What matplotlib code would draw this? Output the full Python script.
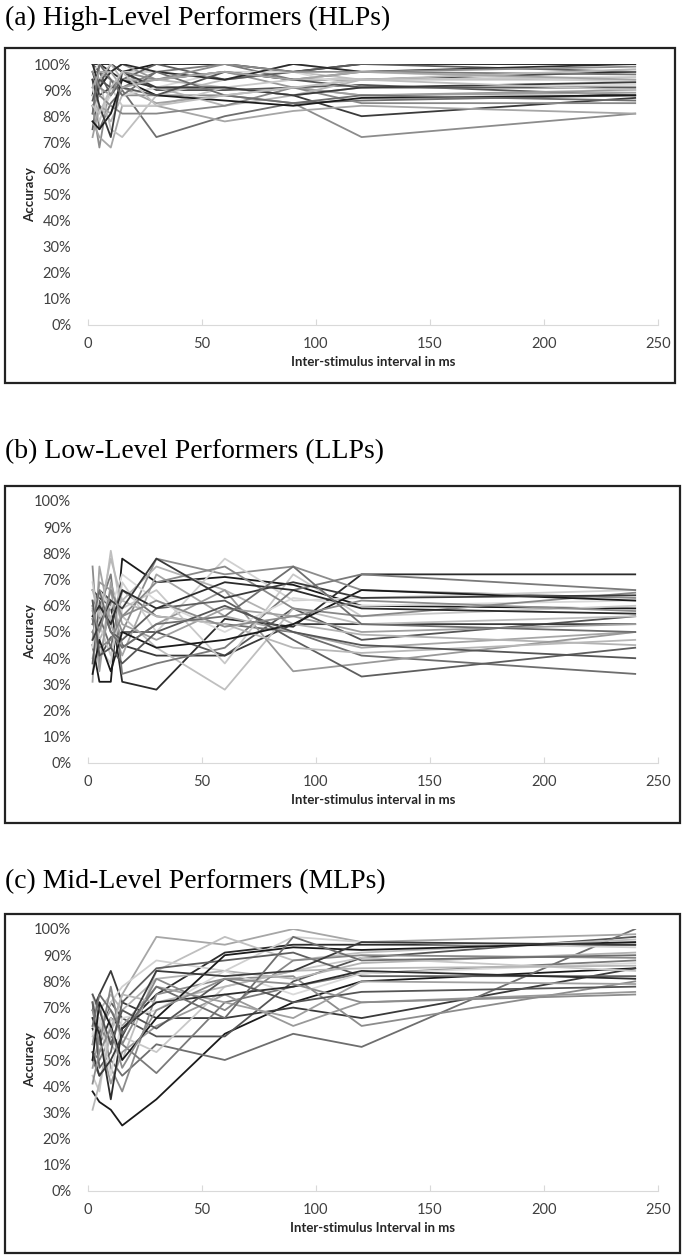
import numpy as np
import matplotlib.pyplot as plt
from matplotlib.patches import Rectangle
from matplotlib.ticker import PercentFormatter

# inter-stimulus intervals (ms)
isi = [2, 5, 10, 15, 30, 60, 90, 120, 240]

# accuracy (%) per participant, one list per line
hlp = [
    [100, 100, 100, 97, 100, 100, 97, 100, 100],
    [88, 100, 97, 94, 94, 97, 94, 94, 97],
    [75, 92, 100, 97, 90, 90, 91, 92, 88],
    [97, 88, 91, 94, 91, 91, 88, 80, 87],
    [94, 75, 85, 90, 72, 80, 85, 86, 88],
    [84, 68, 94, 88, 88, 88, 85, 72, 81],
    [78, 72, 68, 84, 84, 78, 82, 84, 81],
    [100, 94, 75, 72, 88, 94, 97, 94, 94],
    [91, 81, 88, 97, 97, 94, 100, 97, 93],
    [97, 97, 94, 91, 97, 100, 94, 97, 96],
    [81, 84, 78, 88, 91, 84, 88, 91, 91],
    [94, 91, 97, 100, 94, 97, 91, 88, 90],
    [88, 78, 91, 84, 84, 91, 94, 94, 95],
    [100, 97, 88, 94, 100, 94, 97, 100, 97],
    [72, 84, 81, 91, 85, 88, 91, 88, 89],
    [97, 100, 94, 88, 91, 97, 97, 91, 92],
    [84, 88, 84, 81, 81, 84, 91, 85, 85],
    [91, 94, 100, 94, 94, 91, 88, 94, 98],
    [78, 75, 81, 94, 88, 86, 84, 87, 88],
    [100, 91, 97, 100, 97, 94, 100, 97, 100],
    [86, 94, 91, 91, 88, 97, 94, 91, 91],
    [94, 84, 72, 97, 91, 91, 88, 91, 93],
    [81, 100, 94, 88, 97, 88, 85, 88, 86],
    [97, 91, 88, 97, 94, 100, 97, 97, 99],
    [91, 97, 97, 91, 94, 97, 94, 97, 94],
    [84, 81, 91, 97, 84, 88, 91, 94, 90],
]

llp = [
    [45, 31, 31, 78, 69, 71, 68, 60, 59],
    [66, 63, 60, 31, 28, 55, 52, 72, 72],
    [55, 40, 48, 50, 50, 41, 59, 47, 56],
    [60, 66, 62, 45, 41, 41, 53, 53, 53],
    [50, 56, 44, 66, 56, 53, 50, 41, 34],
    [75, 38, 62, 50, 78, 72, 75, 66, 63],
    [31, 75, 53, 41, 72, 56, 50, 44, 50],
    [40, 50, 81, 56, 44, 28, 59, 53, 56],
    [62, 44, 38, 69, 50, 78, 62, 63, 66],
    [53, 59, 72, 34, 38, 44, 66, 72, 66],
    [56, 47, 56, 62, 75, 66, 53, 49, 45],
    [47, 69, 66, 44, 53, 66, 35, 38, 50],
    [69, 53, 41, 59, 66, 38, 72, 56, 60],
    [38, 62, 50, 47, 59, 62, 47, 33, 44],
    [59, 35, 69, 53, 47, 59, 56, 50, 53],
    [44, 66, 59, 72, 62, 50, 63, 60, 62],
    [50, 44, 47, 56, 69, 75, 59, 56, 65],
    [66, 56, 78, 62, 56, 53, 44, 42, 47],
    [34, 47, 35, 50, 44, 47, 53, 66, 62],
    [56, 60, 53, 66, 59, 69, 66, 59, 57],
    [62, 41, 44, 38, 50, 60, 50, 45, 40],
    [47, 53, 62, 59, 78, 63, 69, 63, 64],
    [53, 66, 50, 44, 53, 56, 75, 53, 50],
    [58, 50, 66, 56, 62, 52, 56, 62, 58],
]

mlp = [
    [38, 34, 31, 25, 35, 60, 72, 80, 85],
    [62, 56, 66, 62, 75, 91, 94, 94, 94],
    [72, 60, 72, 66, 59, 59, 80, 89, 97],
    [69, 75, 84, 72, 66, 66, 70, 66, 85],
    [50, 44, 50, 44, 56, 50, 60, 55, 100],
    [56, 72, 47, 38, 75, 81, 82, 63, 80],
    [66, 53, 62, 75, 97, 94, 100, 95, 98],
    [59, 66, 56, 50, 84, 97, 88, 91, 96],
    [75, 63, 72, 78, 88, 84, 97, 95, 93],
    [53, 50, 59, 56, 45, 72, 78, 83, 88],
    [63, 69, 75, 69, 81, 84, 81, 87, 91],
    [47, 59, 41, 53, 63, 75, 63, 72, 76],
    [44, 38, 66, 59, 53, 78, 84, 89, 84],
    [72, 47, 53, 72, 85, 88, 91, 82, 82],
    [56, 62, 69, 63, 78, 72, 66, 80, 79],
    [60, 66, 44, 66, 69, 84, 75, 83, 87],
    [69, 56, 78, 56, 81, 69, 88, 90, 89],
    [31, 41, 60, 75, 72, 78, 84, 85, 86],
    [50, 72, 63, 50, 66, 90, 93, 92, 95],
    [66, 60, 35, 62, 72, 75, 78, 84, 81],
    [75, 69, 56, 69, 62, 81, 72, 76, 78],
    [53, 44, 50, 59, 84, 82, 84, 95, 94],
    [63, 75, 69, 60, 78, 66, 97, 88, 90],
    [41, 53, 62, 47, 69, 81, 79, 72, 75],
]

titles = ["(a) High-Level Performers (HLPs)",
          "(b) Low-Level Performers (LLPs)",
          "(c) Mid-Level Performers (MLPs)"]
xlabels = ["Inter-stimulus interval in ms",
           "Inter-stimulus interval in ms",
           "Inter-stimulus Interval in ms"]

greys = ["#1a1a1a", "#2b2b2b", "#555555", "#3a3a3a", "#6e6e6e", "#8c8c8c",
         "#a6a6a6", "#bfbfbf", "#d0d0d0", "#7a7a7a", "#b3b3b3", "#999999",
         "#c8c8c8", "#5e5e5e", "#a0a0a0", "#d9d9d9", "#888888", "#b8b8b8"]

W, H = 685, 1257
fig = plt.figure(figsize=(W / 100, H / 100), dpi=100)


def rect(l, t, r, b):
    return [l / W, 1 - b / H, (r - l) / W, (b - t) / H]


# pixel layout: title y, box (l,t,r,b), axes (l,t,r,b)
layout = [
    (18, (5, 48, 675, 383), (88, 64, 658, 325)),
    (452, (5, 486, 680, 823), (88, 501, 658, 763)),
    (882, (5, 914, 680, 1253), (88, 929, 658, 1191)),
]

for k, data in enumerate([hlp, llp, mlp]):
    ty, box, axr = layout[k]
    fig.text(5 / W, 1 - ty / H, titles[k], family="Liberation Serif",
             fontsize=20, va="center", ha="left", color="black")
    fig.patches.append(Rectangle((box[0] / W, 1 - box[3] / H),
                                 (box[2] - box[0]) / W, (box[3] - box[1]) / H,
                                 transform=fig.transFigure, fill=False,
                                 edgecolor="#222222", lw=1.6))
    ax = fig.add_axes(rect(*axr))
    for i, s in enumerate(data):
        ax.plot(isi, np.array(s) / 100, color=greys[i % len(greys)], lw=1.3)
    ax.set_xlim(0, 250)
    ax.set_ylim(0, 1.0)
    ax.set_xticks([0, 50, 100, 150, 200, 250])
    ax.set_yticks(np.arange(0, 1.01, 0.1))
    ax.yaxis.set_major_formatter(PercentFormatter(1.0, decimals=0))
    for sp in ["left", "top", "right"]:
        ax.spines[sp].set_visible(False)
    ax.spines["bottom"].set_color("#d9d9d9")
    ax.tick_params(axis="y", length=0, pad=12, labelsize=10.5,
                   labelcolor="#404040")
    ax.tick_params(axis="x", length=4, direction="in", color="#d9d9d9",
                   pad=9, labelsize=10.5, labelcolor="#404040")
    for lab in ax.get_xticklabels() + ax.get_yticklabels():
        lab.set_family("Lato")
    ax.set_xlabel(xlabels[k], family="Lato", fontweight="bold", fontsize=9.5,
                  color="#262626", labelpad=3)
    ax.set_ylabel("Accuracy", family="Lato", fontweight="bold", fontsize=9.5,
                  color="#262626", labelpad=-1)

fig.savefig("out.png", dpi=100)
